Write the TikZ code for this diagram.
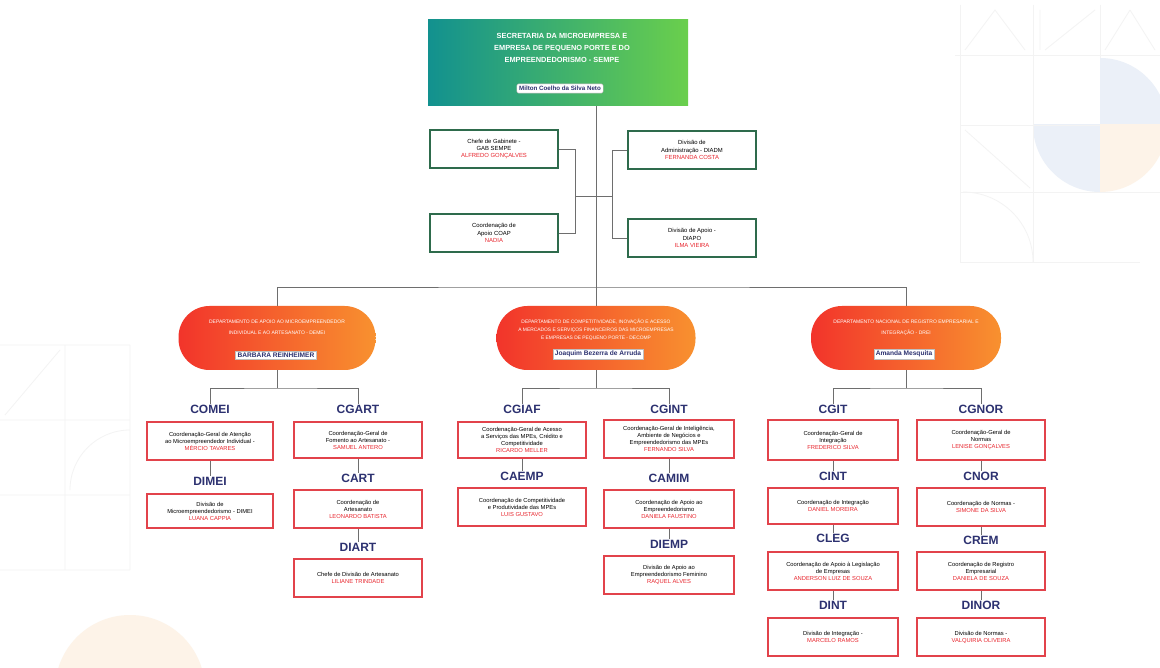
\documentclass[tikz,border=0pt]{standalone}
\usepackage{fontspec}
\setmainfont{Liberation Sans}
\definecolor{boxred}{HTML}{E2434B}
\definecolor{namered}{HTML}{E8262E}
\definecolor{boxgreen}{HTML}{2E6B4C}
\definecolor{navy}{HTML}{2C3170}
\definecolor{tealA}{HTML}{12918F}
\definecolor{greenB}{HTML}{6ACF4C}
\definecolor{pillA}{HTML}{F2342B}
\definecolor{pillB}{HTML}{F8912F}
\definecolor{conn}{HTML}{6E6E6E}
\definecolor{pblue}{HTML}{EBF0F8}
\definecolor{porange}{HTML}{FDF3E8}
\definecolor{faint}{HTML}{F3F3F3}
\newcommand\nm[1]{\textcolor{namered}{#1}}
\begin{document}
\begin{tikzpicture}[x=1pt,y=-1pt,
  conn/.style={draw=conn, line width=0.7pt},
  redbox/.style={draw=boxred, line width=1.6pt, fill=white, align=center, inner sep=1.5pt,
     font=\fontsize{5.8}{7}\selectfont},
  greenbox/.style={draw=boxgreen, line width=1.6pt, fill=white, align=center, inner sep=1.5pt,
     font=\fontsize{5.9}{7.4}\selectfont, minimum width=128pt, minimum height=38pt},
  lab/.style={font=\fontsize{12}{12}\selectfont\bfseries, text=navy, inner sep=0.5pt},
  pill/.style={rounded corners=31pt, left color=pillA, right color=pillB, minimum height=64pt, draw=none},
  pilltxt/.style={text=white, align=center, font=\fontsize{5}{8}\selectfont, inner sep=0pt},
  tag/.style={fill=white, draw=black!25, line width=0.4pt, text=navy, inner sep=2pt,
     font=\fontsize{6.6}{7}\selectfont\bfseries}
]
\useasboundingbox (0,0) rectangle (1160,668);
\fill[white] (0,0) rectangle (1160,668);

% ---- faint background decoration
\begin{scope}
\clip (1100,58) rectangle (1160,125); \fill[pblue] (1100,125) circle[radius=67];
\end{scope}
\begin{scope}
\clip (1033,125) rectangle (1100,192); \fill[pblue] (1100,125) circle[radius=67];
\end{scope}
\begin{scope}
\clip (1100,125) rectangle (1160,192); \fill[porange] (1100,125) circle[radius=67];
\end{scope}
\draw[faint, line width=0.8pt] (955,55) -- (1160,55) (960,125) -- (1100,125) (960,192) -- (1160,192)
  (960,262) -- (1140,262) (960,5) -- (960,262) (1033,5) -- (1033,262) (1100,5) -- (1100,58);
\draw[faint, line width=0.8pt] (965,50) -- (995,10) -- (1025,50) (1040,50) -- (1040,10) (1045,50) -- (1095,10)
  (1105,50) -- (1130,10) (1130,10) -- (1155,50) (965,130) -- (1030,188) (1033,262) arc[start angle=0, end angle=-90, radius=70];
\begin{scope}
\clip (40,615) rectangle (210,668); \fill[porange] (130,690) circle[radius=75];
\end{scope}
\draw[faint, line width=0.8pt] (0,345) -- (130,345) (0,420) -- (130,420) (0,495) -- (130,495) (0,570) -- (130,570)
  (65,345) -- (65,570) (130,345) -- (130,570) (5,415) -- (60,350) (70,490) arc[start angle=180, end angle=270, radius=60];

% ---- top box
\node[left color=tealA, right color=greenB, minimum width=260pt, minimum height=86pt, inner sep=0pt] (top) at (558,63) {};
\node[text=white, align=center, font=\fontsize{7.4}{11.6}\selectfont\bfseries, inner sep=0pt] (toptxt) at (562,48)
  {SECRETARIA DA MICROEMPRESA E\\EMPRESA DE PEQUENO PORTE E DO\\EMPREENDEDORISMO - SEMPE};
\node[tag, rounded corners=2pt, draw=black!30, inner sep=2.4pt, font=\fontsize{6.2}{7}\selectfont\bfseries] (toptag) at (560,88.5) {Milton Coelho da Silva Neto};

% ---- staff boxes
\node[greenbox] (cgab) at (494,149) {Chefe de Gabinete -\\GAB SEMPE\\\nm{ALFREDO GONÇALVES}};
\node[greenbox] (capo) at (494,233) {Coordenação de\\Apoio COAP\\\nm{NADIA}};
\node[greenbox] (diadm) at (692,150) {Divisão de\\Administração - DIADM\\\nm{FERNANDA COSTA}};
\node[greenbox] (diapo) at (692,238) {Divisão de Apoio -\\DIAPO\\\nm{ILMA VIEIRA}};

\coordinate (hub) at (596,287);
\coordinate (jl) at (575,196);
\coordinate (jr) at (612,196);
\draw[conn] (top.south -| hub) -- (hub);
\draw[conn] (cgab.east) -| (jl);
\draw[conn] (capo.east) -| (jl);
\draw[conn] (jl) -- (jr);
\draw[conn] (diadm.west) -| (jr);
\draw[conn] (diapo.west) -| (jr);

% ---- pills
\node[pill, minimum width=197pt] (p1) at (277,338) {};
\node[pill, minimum width=199pt] (p2) at (596,338) {};
\node[pill, minimum width=190pt] (p3) at (906,338) {};
\node[pilltxt, font=\fontsize{5}{10.5}\selectfont] (p1t) at (277,327.5)
  {DEPARTAMENTO DE APOIO AO MICROEMPREENDEDOR\\INDIVIDUAL E AO ARTESANATO - DEMEI};
\node[pilltxt, font=\fontsize{4.9}{8}\selectfont] (p2t) at (596,330)
  {DEPARTAMENTO DE COMPETITIVIDADE, INOVAÇÃO E ACESSO\\A MERCADOS E SERVIÇOS FINANCEIROS DAS MICROEMPRESAS\\E EMPRESAS DE PEQUENO PORTE - DECOMP};
\node[pilltxt, font=\fontsize{5}{10.5}\selectfont] (p3t) at (906,328)
  {DEPARTAMENTO NACIONAL DE REGISTRO EMPRESARIAL E\\INTEGRAÇÃO - DREI};
\node[tag] (p1n) at (276,355) {BARBARA REINHEIMER};
\node[tag] (p2n) at (598,354) {Joaquim Bezerra de Arruda};
\node[tag] (p3n) at (904,354) {Amanda Mesquita};

\draw[conn] (p1.north) |- (hub) -| (p3.north);
\draw[conn] (hub) -- (p2.north);

% ---- left group
\node[lab] (lcomei) at (210,409) {COMEI};
\node[redbox, minimum width=126pt, minimum height=38pt] (comei) at (210,441)
  {Coordenação-Geral de Atenção\\ao Microempreendedor Individual -\\\nm{MÉRCIO TAVARES}};
\node[lab] (ldimei) at (210,481) {DIMEI};
\node[redbox, minimum width=126pt, minimum height=34pt] (dimei) at (210,511)
  {Divisão de\\Microempreendedorismo - DIMEI\\\nm{LUANA CAPPIA}};
\node[lab] (lcgart) at (358,409) {CGART};
\node[redbox, minimum width=128pt, minimum height=36pt] (cgart) at (358,440)
  {Coordenação-Geral de\\Fomento ao Artesanato -\\\nm{SAMUEL ANTERO}};
\node[lab] (lcart) at (358,478) {CART};
\node[redbox, minimum width=128pt, minimum height=38pt] (cart) at (358,509)
  {Coordenação de\\Artesanato\\\nm{LEONARDO BATISTA}};
\node[lab] (ldiart) at (358,547) {DIART};
\node[redbox, minimum width=128pt, minimum height=38pt] (diart) at (358,578)
  {Chefe de Divisão de Artesanato\\\nm{LILIANE TRINDADE}};
\coordinate (b1) at (277,388);
\draw[conn] (p1.south) -- (b1);
\draw[conn] (lcomei.north) |- (b1) -| (lcgart.north);
\draw[conn] (comei.south) -- (ldimei.north);
\draw[conn] (cgart.south) -- (lcart.north);
\draw[conn] (cart.south) -- (ldiart.north);

% ---- middle group
\node[lab] (lcgiaf) at (522,409) {CGIAF};
\node[redbox, minimum width=128pt, minimum height=36pt] (cgiaf) at (522,440)
  {Coordenação-Geral de Acesso\\a Serviços das MPEs, Crédito e\\Competitividade\\\nm{RICARDO MELLER}};
\node[lab] (lcaemp) at (522,476) {CAEMP};
\node[redbox, minimum width=128pt, minimum height=38pt] (caemp) at (522,507)
  {Coordenação de Competitividade\\e Produtividade das MPEs\\\nm{LUIS GUSTAVO}};
\node[lab] (lcgint) at (669,409) {CGINT};
\node[redbox, minimum width=130pt, minimum height=38pt] (cgint) at (669,439)
  {Coordenação-Geral de Inteligência,\\Ambiente de Negócios e\\Empreendedorismo das MPEs\\\nm{FERNANDO SILVA}};
\node[lab] (lcamim) at (669,478) {CAMIM};
\node[redbox, minimum width=130pt, minimum height=38pt] (camim) at (669,509)
  {Coordenação de Apoio ao\\Empreendedorismo\\\nm{DANIELA FAUSTINO}};
\node[lab] (ldiemp) at (669,544) {DIEMP};
\node[redbox, minimum width=130pt, minimum height=38pt] (diemp) at (669,575)
  {Divisão de Apoio ao\\Empreendedorismo Feminino\\\nm{RAQUEL ALVES}};
\coordinate (b2) at (596,388);
\draw[conn] (p2.south) -- (b2);
\draw[conn] (lcgiaf.north) |- (b2) -| (lcgint.north);
\draw[conn] (cgiaf.south) -- (lcaemp.north);
\draw[conn] (cgint.south) -- (lcamim.north);
\draw[conn] (camim.south) -- (ldiemp.north);

% ---- right group
\node[lab] (lcgit) at (833,409) {CGIT};
\node[redbox, minimum width=130pt, minimum height=40pt] (cgit) at (833,440)
  {Coordenação-Geral de\\Integração\\\nm{FREDERICO SILVA}};
\node[lab] (lcint) at (833,476) {CINT};
\node[redbox, minimum width=130pt, minimum height=36pt] (cint) at (833,506)
  {Coordenação de Integração\\\nm{DANIEL MOREIRA}};
\node[lab] (lcleg) at (833,538) {CLEG};
\node[redbox, minimum width=130pt, minimum height=38pt] (cleg) at (833,571)
  {Coordenação de Apoio à Legislação\\de Empresas\\\nm{ANDERSON LUIZ DE SOUZA}};
\node[lab] (ldint) at (833,605) {DINT};
\node[redbox, minimum width=130pt, minimum height=38pt] (dint) at (833,637)
  {Divisão de Integração -\\\nm{MARCELO RAMOS}};
\node[lab] (lcgnor) at (981,409) {CGNOR};
\node[redbox, minimum width=128pt, minimum height=40pt] (cgnor) at (981,440)
  {Coordenação-Geral de\\Normas\\\nm{LENISE GONÇALVES}};
\node[lab] (lcnor) at (981,476) {CNOR};
\node[redbox, minimum width=128pt, minimum height=38pt] (cnor) at (981,507)
  {Coordenação de Normas -\\\nm{SIMONE DA SILVA}};
\node[lab] (lcrem) at (981,540) {CREM};
\node[redbox, minimum width=128pt, minimum height=38pt] (crem) at (981,571)
  {Coordenação de Registro\\Empresarial\\\nm{DANIELA DE SOUZA}};
\node[lab] (ldinor) at (981,605) {DINOR};
\node[redbox, minimum width=128pt, minimum height=38pt] (dinor) at (981,637)
  {Divisão de Normas -\\\nm{VALQUIRIA OLIVEIRA}};
\coordinate (b3) at (906,388);
\draw[conn] (p3.south) -- (b3);
\draw[conn] (lcgit.north) |- (b3) -| (lcgnor.north);
\draw[conn] (cgit.south) -- (lcint.north);
\draw[conn] (cint.south) -- (lcleg.north);
\draw[conn] (cleg.south) -- (ldint.north);
\draw[conn] (cgnor.south) -- (lcnor.north);
\draw[conn] (cnor.south) -- (lcrem.north);
\draw[conn] (crem.south) -- (ldinor.north);
\end{tikzpicture}
\end{document}
